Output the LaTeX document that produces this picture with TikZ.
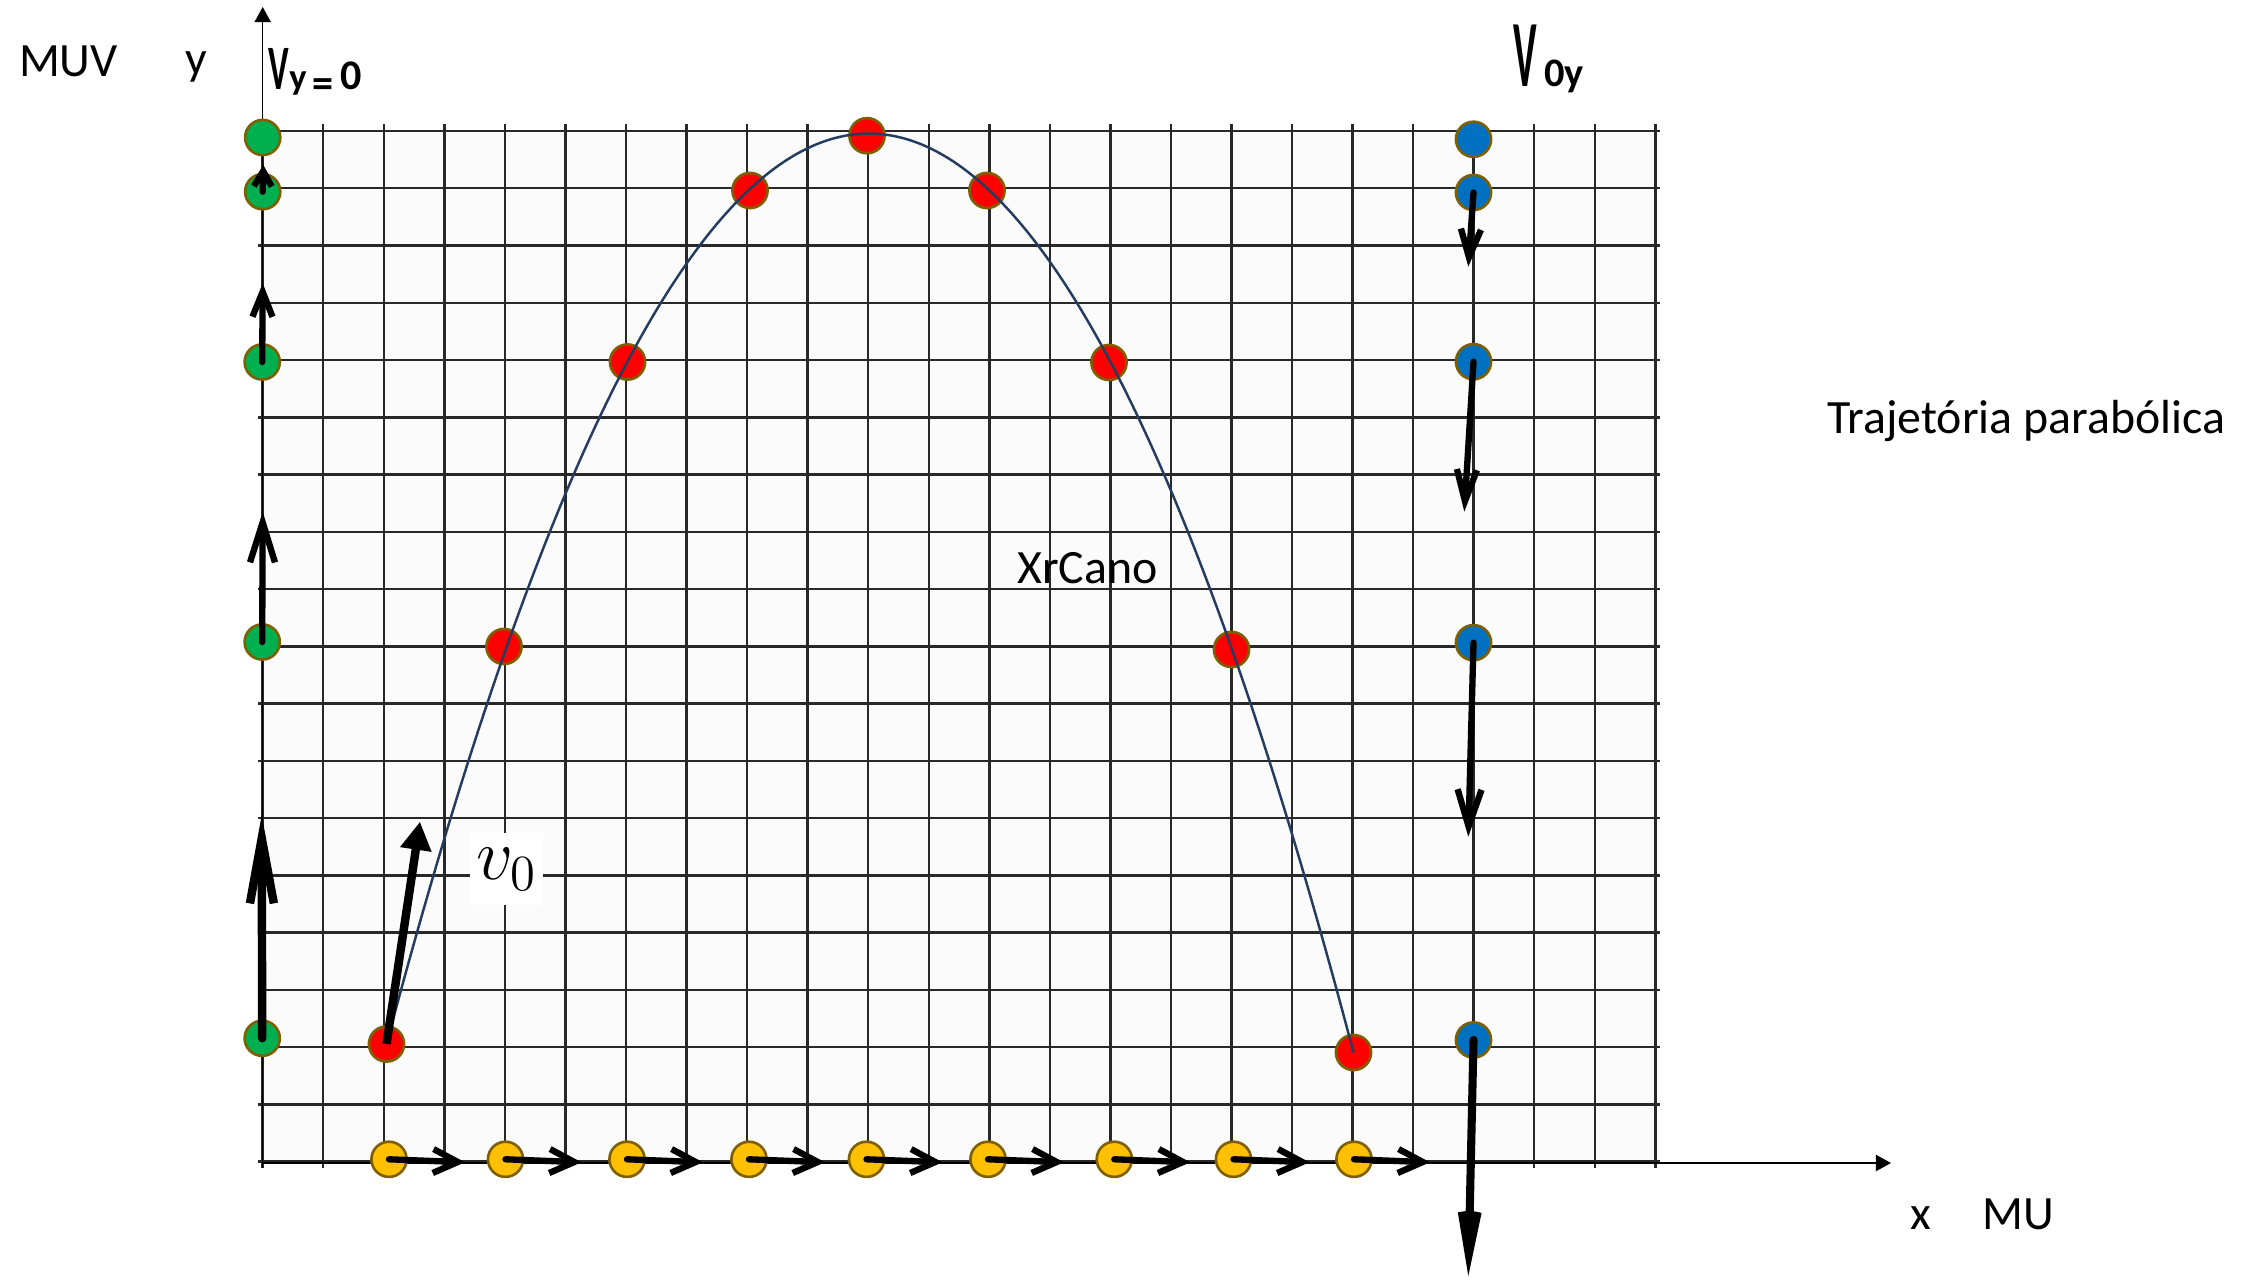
\documentclass[tikz,border=0pt]{standalone}
\usepackage{fontspec}
\setmainfont{Carlito}
\usetikzlibrary{arrows.meta}
\definecolor{gdot}{RGB}{0,176,80}
\definecolor{rdot}{RGB}{255,0,0}
\definecolor{bdot}{RGB}{0,112,192}
\definecolor{ydot}{RGB}{255,192,0}
\definecolor{dotline}{RGB}{127,96,0}
\definecolor{curvec}{RGB}{35,60,95}
\definecolor{gridc}{RGB}{40,40,40}
\definecolor{gridbg}{RGB}{251,251,251}
\begin{document}
\begin{tikzpicture}[x=0.01cm,y=-0.01cm,
  dot/.style={circle,draw=dotline,line width=0.75pt,minimum size=10pt,inner sep=0pt},
  gd/.style={dot,fill=gdot},
  rd/.style={dot,fill=rdot},
  bd/.style={dot,fill=bdot},
  yd/.style={dot,fill=ydot},
  gridline/.style={gridc,line width=0.7pt},
  axisline/.style={black,line width=0.45pt,-{Triangle[length=4.3pt,width=4.6pt]}},
  lbl/.style={font=\fontsize{13.6}{16}\selectfont,inner sep=0pt,anchor=base west},
  hand/.style={black,line width=1.8pt,line cap=round},
]
\useasboundingbox (0,0) rectangle (2257,1280);
% grid
\fill[gridbg] (262.7,131) rectangle (1655.4,1161.7);
\foreach \i in {0,...,23}
  \draw[gridline] ({262.7+60.55*\i},124) -- ({262.7+60.55*\i},1168);
\foreach \j in {0,...,18}
  \draw[gridline] (258,{131+57.26*\j}) -- (1660,{131+57.26*\j});
% axes
\coordinate (yorig) at (262.7,1168);
\coordinate (ytip) at (262.7,7);
\coordinate (xorig) at (262.7,1163);
\coordinate (xtip) at (1891,1163);
\draw[axisline] (yorig) -- (ytip);
\draw[axisline] (xorig) -- (xtip);
% dots
\node[gd] (g1) at (262.7,137.5) {};
\node[gd] (g2) at (262.7,191.7) {};
\node[gd] (g3) at (262.2,362) {};
\node[gd] (g4) at (262.2,642) {};
\node[gd] (g5) at (262.2,1038.3) {};
\node[bd] (b1) at (1473.5,139.3) {};
\node[bd] (b2) at (1473.5,192.5) {};
\node[bd] (b3) at (1473.5,361.7) {};
\node[bd] (b4) at (1473.5,642.7) {};
\node[bd] (b5) at (1473.5,1040) {};
\node[rd] (r1) at (386.5,1044) {};
\node[rd] (r2) at (504,646.5) {};
\node[rd] (r3) at (627.5,362) {};
\node[rd] (r4) at (750,190.5) {};
\node[rd] (r5) at (867,135.7) {};
\node[rd] (r6) at (987,190.5) {};
\node[rd] (r7) at (1109,362.5) {};
\node[rd] (r8) at (1231.5,649.5) {};
\node[rd] (r9) at (1353.5,1052.5) {};
\foreach \n/\xx in {1/389,2/505.5,3/627,4/749,5/866.5,6/988,7/1114.3,8/1233.5,9/1354}
  \node[yd] (yd\n) at (\xx,1159.3) {};
% parabola
\draw[curvec,line width=0.7pt] (r1.center) .. controls (708.8,-172.8) and (1031.2,-169.8) .. (r9.center);
% v0 arrow and label
\coordinate (v0tip) at (420,821.7);
\draw[black,line width=2.4pt,-{Triangle[length=8pt,width=8.5pt]}] (r1.center) -- (v0tip);
\node[fill=white,minimum width=20.8pt,minimum height=20.5pt,inner sep=0pt,
      font=\fontsize{20}{24}\selectfont] (v0lab) at (506.7,869) {$v_0$};
% green (MUV) arrows
\coordinate (ga1) at (263.3,165);
\coordinate (ga2) at (262.7,283.3);
\coordinate (ga3) at (262.7,511.7);
\coordinate (ga4) at (261.7,815);
\draw[hand,-{Straight Barb[length=4.3pt,width=5.1pt]}] (g2.center) -- (ga1);
\draw[hand,-{Straight Barb[length=7.1pt,width=5.7pt]}] (g3.center) -- (ga2);
\draw[hand,-{Straight Barb[length=11.4pt,width=7.1pt]}] (g4.center) -- (ga3);
\draw[hand,line width=2.4pt,-{Straight Barb[length=18.5pt,width=6.8pt]}] (g5.center) -- (ga4);
% blue arrows
\coordinate (ba1) at (1468.3,266.7);
\coordinate (ba2) at (1464.3,511.7);
\coordinate (ba3) at (1468.3,836.7);
\coordinate (ba4) at (1468.3,1276);
\draw[hand,-{Straight Barb[length=8pt,width=5.7pt]}] (b2.center) -- (ba1);
\draw[hand,-{Straight Barb[length=9pt,width=5.7pt]}] (b3.center) -- (ba2);
\draw[hand,-{Straight Barb[length=10.5pt,width=6.8pt]}] (b4.center) -- (ba3);
\draw[hand,line width=2.3pt,-{Straight Barb[length=12pt,width=4.5pt]}] (b5.center) -- (ba4);
% yellow arrows
\foreach \n in {1,...,9}{
  \coordinate (ya\n) at ([shift={(76,3)}]yd\n.center);
  \draw[hand,-{Straight Barb[length=7pt,width=6.8pt]}] (yd\n.center) -- (ya\n);
}
% labels
\node[lbl] (muv) at (18.3,76.7) {MUV};
\node[lbl] (ylab) at (185,74.5) {y};
\node[lbl] (xlab) at (1910,1230) {x};
\node[lbl] (mu) at (1982,1230) {MU};
\node[lbl] (traj) at (1826.7,433.3) {Trajetória parabólica};
\node[lbl] (xr) at (1016.7,583.3) {XrCano};
\node[inner sep=0pt,anchor=base west,font=\bfseries] (vy0) at (268,90)
  {\fontsize{18}{18}\selectfont\scalebox{0.55}[1]{V}\fontsize{10.4}{12}\selectfont y\,\fontsize{12}{12}\selectfont\raisebox{-2pt}{=}\,0};
\node[inner sep=0pt,anchor=base west,font=\bfseries] (v0y) at (1513,87)
  {\fontsize{27}{27}\selectfont\scalebox{0.42}[1]{V}\fontsize{11.5}{12}\selectfont\,0y};
\end{tikzpicture}
\end{document}
